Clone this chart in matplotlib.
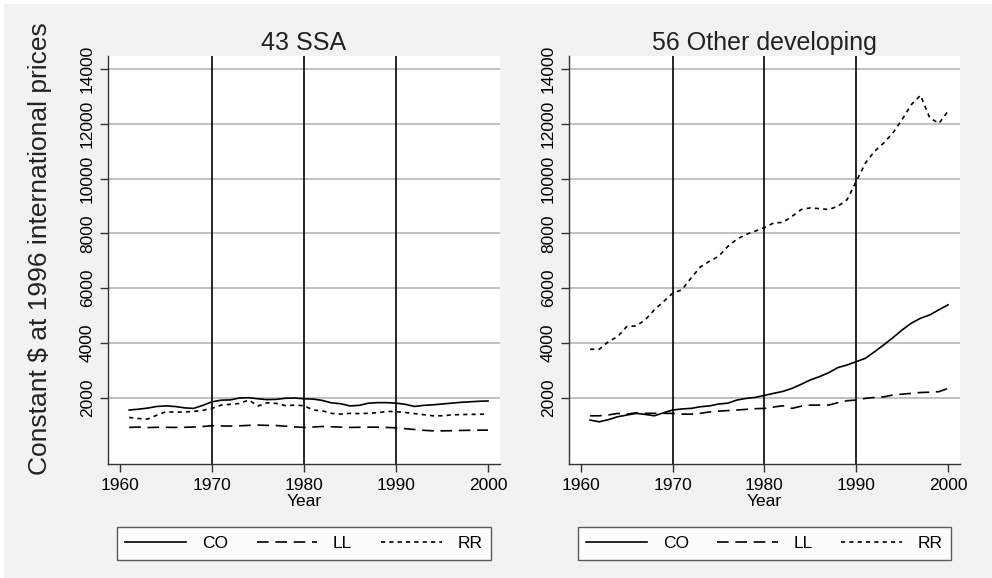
import matplotlib
matplotlib.use("Agg")
import matplotlib.pyplot as plt
from matplotlib.patches import Rectangle

plt.rcParams["font.family"] = ["Liberation Sans", "DejaVu Sans"]

# Data: constant $ at 1996 international prices, 1961-2000
years = list(range(1961, 2001))

ssa_co = [1550, 1580, 1620, 1680, 1700, 1680, 1630, 1610, 1720, 1850,
          1910, 1920, 1990, 2000, 1960, 1930, 1940, 1980, 1990, 1960,
          1950, 1900, 1810, 1780, 1700, 1720, 1800, 1820, 1820, 1800,
          1760, 1680, 1720, 1740, 1770, 1800, 1830, 1850, 1870, 1880]
ssa_ll = [915, 930, 910, 920, 920, 915, 920, 930, 950, 975,
          970, 965, 975, 990, 1000, 990, 985, 960, 935, 915,
          930, 950, 940, 925, 915, 920, 925, 925, 915, 900,
          870, 840, 810, 790, 790, 795, 805, 810, 815, 817]
ssa_rr = [1280, 1240, 1220, 1360, 1490, 1470, 1480, 1500, 1540, 1610,
          1730, 1760, 1790, 1915, 1695, 1817, 1790, 1710, 1730, 1707,
          1549, 1520, 1427, 1400, 1430, 1420, 1430, 1450, 1500, 1490,
          1460, 1420, 1380, 1340, 1340, 1370, 1385, 1390, 1395, 1400]

oth_co = [1183, 1120, 1200, 1305, 1366, 1427, 1390, 1340, 1450, 1550,
          1590, 1610, 1670, 1700, 1770, 1800, 1915, 1975, 2010, 2085,
          2160, 2230, 2340, 2490, 2650, 2770, 2915, 3100, 3195, 3317,
          3440, 3680, 3930, 4195, 4475, 4720, 4900, 5020, 5210, 5390]
oth_ll = [1340, 1340, 1370, 1427, 1400, 1450, 1430, 1430, 1430, 1427,
          1400, 1400, 1430, 1480, 1510, 1530, 1550, 1575, 1600, 1610,
          1660, 1707, 1610, 1690, 1730, 1730, 1730, 1820, 1890, 1915,
          1975, 2010, 2030, 2100, 2130, 2160, 2190, 2200, 2220, 2340]
oth_rr = [3768, 3768, 4050, 4230, 4600, 4620, 4840, 5210, 5510, 5817,
          5940, 6370, 6770, 6980, 7160, 7520, 7790, 7960, 8085, 8210,
          8380, 8400, 8620, 8870, 8930, 8900, 8870, 8990, 9230, 9900,
          10570, 11000, 11300, 11670, 12160, 12700, 13040, 12220, 12010, 12460]

panels = [("43 SSA", ssa_co, ssa_ll, ssa_rr),
          ("56 Other developing", oth_co, oth_ll, oth_rr)]
series_labels = ["CO", "LL", "RR"]
x_ticks = [1960, 1970, 1980, 1990, 2000]
y_ticks = [2000, 4000, 6000, 8000, 10000, 12000, 14000]
ref_years = [1970, 1980, 1990]

bg = "#f1f3f3"
W, H = 992, 578
fig = plt.figure(figsize=(W / 100, H / 100), dpi=100, facecolor="white")
fig.patches.append(Rectangle((4 / W, 0), 1 - 4 / W, 1 - 4 / H, transform=fig.transFigure,
                             facecolor=bg, edgecolor="none", zorder=-10))

positions = [[108 / W, 114 / H, 392 / W, 408 / H],
             [569 / W, 114 / H, 391 / W, 408 / H]]

for pos, (title, co, ll, rr) in zip(positions, panels):
    ax = fig.add_axes(pos)
    ax.set_facecolor("white")
    for y in y_ticks:
        ax.axhline(y, color="#bcbcbc", linewidth=1.3, zorder=1)
    for x in ref_years:
        ax.axvline(x, color="black", linewidth=1.2, zorder=2)

    ax.plot(years, co, color="black", linewidth=1.2, linestyle="-", label=series_labels[0], zorder=3)
    ax.plot(years, ll, color="black", linewidth=1.2, linestyle=(0, (7, 4)), label=series_labels[1], zorder=3)
    ax.plot(years, rr, color="black", linewidth=1.2, linestyle=(0, (2.5, 2.5)), label=series_labels[2], zorder=3)

    ax.set_xlim(1958.7, 2001.3)
    ax.set_ylim(-420, 14474)
    ax.set_xticks(x_ticks)
    ax.set_yticks(y_ticks)
    ax.tick_params(axis="both", direction="out", length=6, width=1, color="#333333", labelsize=12.5)
    ax.tick_params(axis="x", pad=4)
    for lab in ax.get_yticklabels():
        lab.set_rotation(90)
        lab.set_va("center")
    for side in ["top", "right"]:
        ax.spines[side].set_visible(False)
    for side in ["left", "bottom"]:
        ax.spines[side].set_color("#333333")
        ax.spines[side].set_linewidth(1)

    ax.set_title(title, fontsize=18, pad=4, color="#222222")
    ax.set_xlabel("Year", fontsize=12.5, labelpad=1)

    leg = ax.legend(loc="center", bbox_to_anchor=(0, -0.235, 1, 0.081), mode="expand",
                    ncol=3, fontsize=12.5, handlelength=3.5, handletextpad=0.9,
                    frameon=True, fancybox=False, borderpad=0.5)
    leg.get_frame().set_edgecolor("#333333")
    leg.get_frame().set_linewidth(1)

fig.text(40 / W, 0.5 + 40 / H, "Constant \\$ at 1996 international prices", rotation=90,
         fontsize=19, ha="center", va="center", color="#222222")

fig.savefig("out.png", dpi=100, facecolor=fig.get_facecolor())
